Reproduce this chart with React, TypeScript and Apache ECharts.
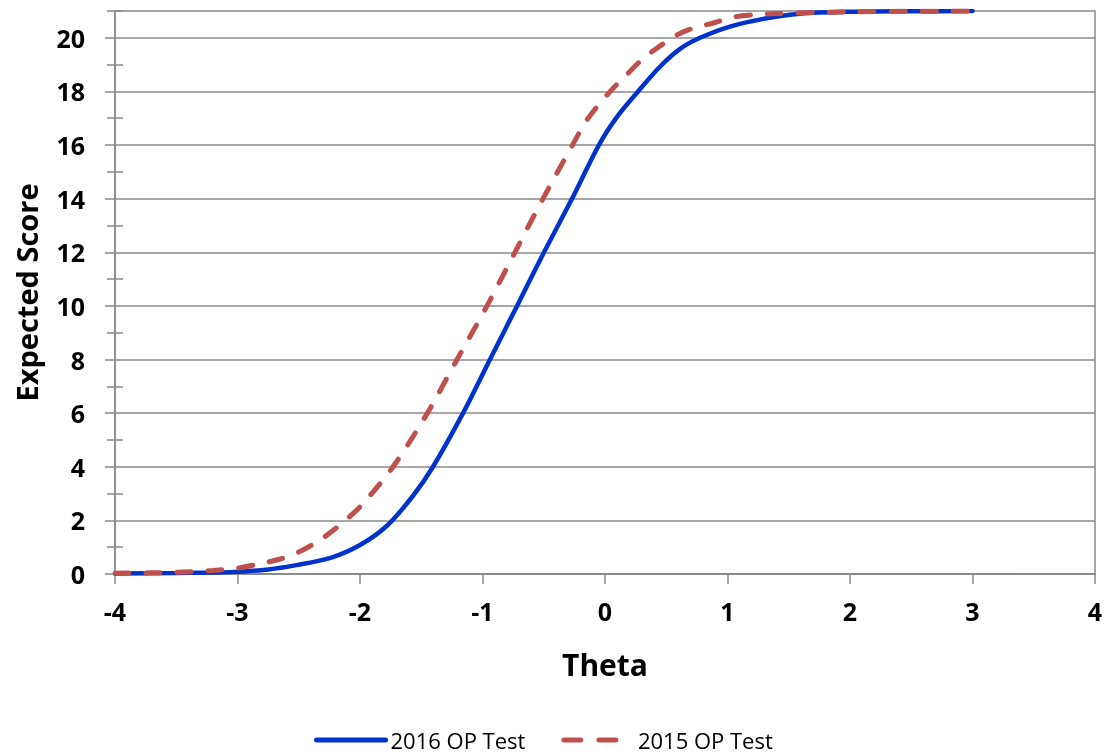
import React, { useEffect, useRef } from "react";
import * as echarts from "echarts";

const seriesNames = ["2016 OP Test", "2015 OP Test"];

const theta2016 = [-4, -3.5, -3.06, -2.75, -2.52, -2.24, -2, -1.78, -1.57, -1.404, -1.159, -0.939, -0.718, -0.498, -0.269, -0.05, 0.098, 0.27, 0.45, 0.61, 0.776, 1.02, 1.32, 1.59, 2, 2.5, 3];
const score2016 = [0.02, 0.04, 0.07, 0.17, 0.33, 0.6, 1.08, 1.8, 2.9, 4, 6, 8, 10, 12, 14, 16, 17.05, 18, 18.93, 19.58, 20, 20.42, 20.73, 20.9, 20.97, 20.99, 21.0];

const theta2015 = [-4, -3.5, -3.2, -3.0, -2.83, -2.65, -2.5, -2.35, -2.22, -2.08, -1.97, -1.73, -1.45, -1.208, -0.963, -0.735, -0.506, -0.265, -0.147, 0.054, 0.163, 0.3, 0.42, 0.585, 0.72, 0.898, 1.045, 1.22, 1.37, 2, 3];
const score2015 = [0.03, 0.06, 0.13, 0.22, 0.37, 0.56, 0.82, 1.2, 1.62, 2.16, 2.65, 4, 6, 8, 10, 12, 14, 16, 16.94, 18.06, 18.56, 19.18, 19.6, 20.1, 20.36, 20.57, 20.77, 20.86, 20.9, 20.97, 21.0];

const xTicks = [-4, -3, -2, -1, 0, 1, 2, 3, 4];
const yMajorTicks = [0, 2, 4, 6, 8, 10, 12, 14, 16, 18, 20];
const yMinorTicks = [1, 3, 5, 7, 9, 11, 13, 15, 17, 19, 21];

const FONT = "'Open Sans', 'Noto Sans', sans-serif";
const GRID_COLOR = "#8a8a8a";

export default function App() {
  const ref = useRef<HTMLDivElement>(null);
  useEffect(() => {
    if (!ref.current) return;
    const chart = echarts.init(ref.current, null, { renderer: "svg" });
    const d2016 = theta2016.map((t, i) => [t, score2016[i]]);
    const d2015 = theta2015.map((t, i) => [t, score2015[i]]);
    chart.setOption({
      animation: false,
      textStyle: { fontFamily: FONT },
      grid: {
        left: 115,
        right: 11,
        top: 11,
        bottom: 182,
        show: true,
        borderColor: GRID_COLOR,
        borderWidth: 1.5,
        backgroundColor: "transparent",
      },
      legend: {
        data: [
          { name: seriesNames[0] },
          { name: seriesNames[1], lineStyle: { type: [17, 18] } },
        ],
        left: 314,
        top: 729,
        padding: 0,
        itemWidth: 69,
        itemHeight: 14,
        itemGap: 36,
        itemStyle: { opacity: 0 },
        lineStyle: { width: 5, cap: "round" },
        textStyle: { fontSize: 22, lineHeight: 22, color: "#000", fontFamily: FONT },
      },
      xAxis: {
        type: "value",
        min: -4,
        max: 4,
        interval: 1,
        name: "Theta",
        nameLocation: "middle",
        nameGap: 75,
        nameTextStyle: { fontSize: 30, fontWeight: "bold", color: "#000", fontFamily: FONT },
        axisLine: { show: true, onZero: false, lineStyle: { color: GRID_COLOR, width: 1.5 } },
        axisTick: { show: true, length: 10, lineStyle: { color: GRID_COLOR, width: 1.5 }, customValues: xTicks },
        axisLabel: { fontSize: 25, fontWeight: "bold", color: "#000", margin: 24, fontFamily: FONT, customValues: xTicks },
        splitLine: { show: false },
      },
      yAxis: [
        {
          type: "value",
          min: 0,
          max: 21,
          interval: 2,
          name: "Expected Score",
          nameLocation: "middle",
          nameGap: 74,
          nameTextStyle: { fontSize: 29, fontWeight: "bold", color: "#000", fontFamily: FONT },
          axisLine: { show: true, onZero: false, lineStyle: { color: GRID_COLOR, width: 1.5 } },
          axisTick: { show: true, length: 10, lineStyle: { color: GRID_COLOR, width: 1.5 }, customValues: yMajorTicks },
          axisLabel: { fontSize: 25, fontWeight: "bold", color: "#000", margin: 30, fontFamily: FONT, customValues: yMajorTicks },
          splitLine: { show: true, lineStyle: { color: GRID_COLOR, width: 1.5 } },
        },
        {
          type: "value",
          min: 0,
          max: 21,
          position: "left",
          offset: -8,
          axisLine: { show: false, onZero: false },
          axisTick: { show: true, length: 16, lineStyle: { color: GRID_COLOR, width: 1.5 }, customValues: yMinorTicks },
          axisLabel: { show: false },
          splitLine: { show: false },
        },
      ],
      series: [
        {
          name: seriesNames[0],
          type: "line",
          data: d2016,
          symbol: "none",
          smooth: 0.3,
          z: 3,
          lineStyle: { color: "#0033CC", width: 4.5, cap: "round" },
          itemStyle: { color: "#0033CC" },
        },
        {
          name: seriesNames[1],
          type: "line",
          data: d2015,
          symbol: "none",
          smooth: 0.3,
          z: 4,
          lineStyle: { color: "#C0504D", width: 5, type: [14, 17], cap: "round" },
          itemStyle: { color: "#C0504D" },
        },
      ],
    });
    return () => chart.dispose();
  }, []);
  return (
    <div
      ref={ref}
      style={{ position: "fixed", left: 0, top: 0, width: 1106, height: 756 }}
    />
  );
}
